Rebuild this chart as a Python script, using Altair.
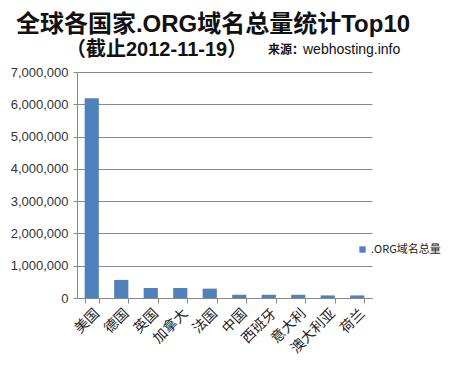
import altair as alt
import pandas as pd

countries = ["美国", "德国", "英国", "加拿大", "法国", "中国", "西班牙", "意大利", "澳大利亚", "荷兰"]
counts = [6190000, 560000, 310000, 310000, 290000, 100000, 100000, 100000, 80000, 80000]
series_name = ".ORG域名总量"
y_ticks = [0, 1000000, 2000000, 3000000, 4000000, 5000000, 6000000, 7000000]

title_line1 = "全球各国家.ORG域名总量统计Top10"
title_line2 = "（截止2012-11-19）"
source_label = "来源："
source_site = "webhosting.info"

df = pd.DataFrame({"country": countries, "count": counts, "series": series_name})

CJK = "Noto Sans CJK SC"
LAT = "Liberation Sans, Noto Sans CJK SC"

bars = alt.Chart(df).mark_bar(color="#4F81BD").encode(
    x=alt.X("country:N", sort=countries,
            scale=alt.Scale(paddingInner=0.52, paddingOuter=0.26),
            axis=alt.Axis(title=None, labelAngle=-45, labelFont=CJK, labelFontSize=14,
                          labelColor="#222", tickBand="extent", tickColor="#888",
                          tickSize=5, domainColor="#888", labelPadding=3)),
    y=alt.Y("count:Q", scale=alt.Scale(domain=[0, 7000000], nice=False),
            axis=alt.Axis(title=None, values=y_ticks, format=",d", labelFont=LAT,
                          labelFontSize=13, labelColor="#333", grid=True,
                          gridColor="#8a8a8a", tickColor="#8a8a8a", tickSize=4,
                          domainColor="#8a8a8a", labelPadding=5)),
    color=alt.Color("series:N", scale=alt.Scale(range=["#4F81BD"]),
                    legend=alt.Legend(title=None, orient="none", legendX=280, legendY=172,
                                      symbolType="square", symbolSize=40, labelOffset=3,
                                      labelFont=CJK, labelFontSize=11, labelColor="#222")),
)

t1 = alt.Chart(pd.DataFrame({"t": [title_line1]})).mark_text(
    font=LAT, fontSize=24, fontWeight="bold", color="#111", align="center", baseline="middle"
).encode(x=alt.value(136), y=alt.value(-47), text="t:N")

t2 = alt.Chart(pd.DataFrame({"t": [title_line2]})).mark_text(
    font=LAT, fontSize=20, fontWeight="bold", color="#111", align="left", baseline="middle"
).encode(x=alt.value(-11), y=alt.value(-22), text="t:N")

t3 = alt.Chart(pd.DataFrame({"t": [source_label]})).mark_text(
    font=CJK, fontSize=12, fontWeight="bold", color="#111", align="left", baseline="middle"
).encode(x=alt.value(191), y=alt.value(-22), text="t:N")

t4 = alt.Chart(pd.DataFrame({"t": [source_site]})).mark_text(
    font=LAT, fontSize=14, color="#111", align="left", baseline="middle"
).encode(x=alt.value(226), y=alt.value(-22), text="t:N")

chart = alt.layer(bars, t1, t2, t3, t4).properties(
    width=295, height=226,
    autosize=alt.AutoSizeParams(type="none"),
    padding={"left": 69, "top": 64, "right": 74, "bottom": 60},
    background="white",
).configure_view(stroke=None)

chart.save("out.html", embed_options={"renderer": "svg", "actions": False})
